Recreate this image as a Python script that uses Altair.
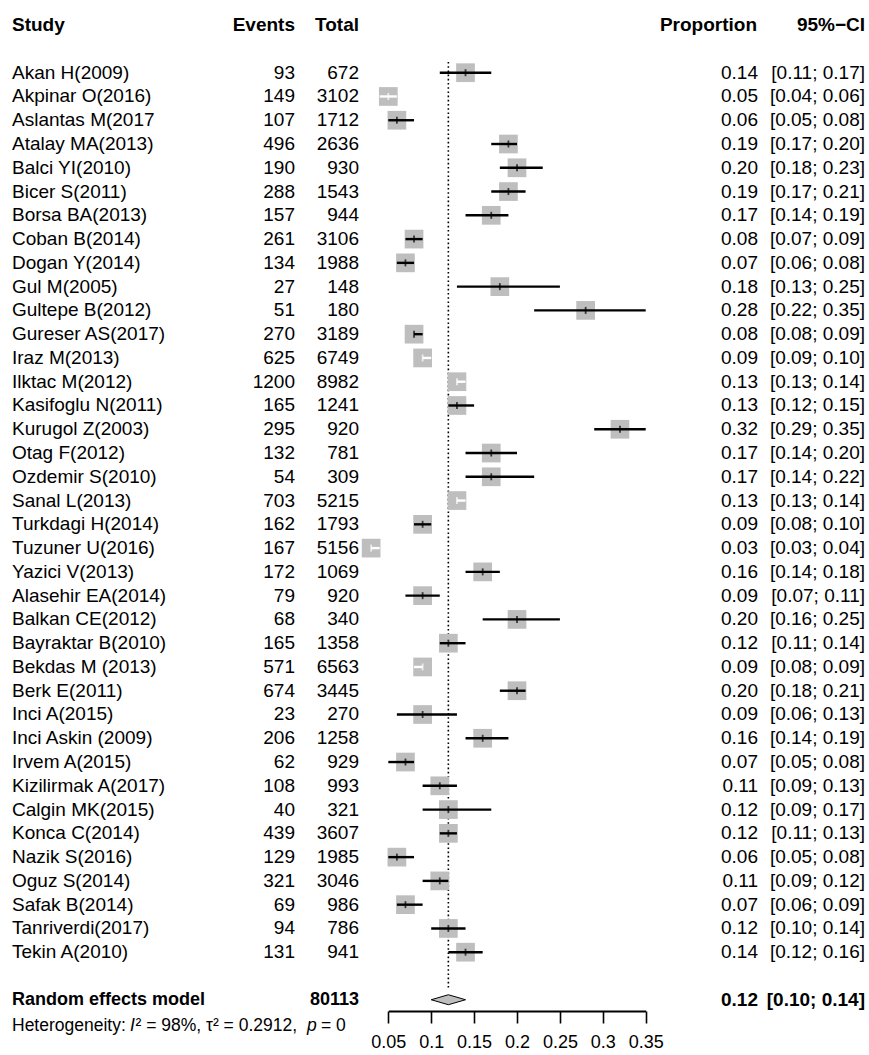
import altair as alt
import pandas as pd

# ---- study-level data ----
studies = [
    "Akan H(2009)", "Akpinar O(2016)", "Aslantas M(2017", "Atalay MA(2013)", "Balci YI(2010)",
    "Bicer S(2011)", "Borsa BA(2013)", "Coban B(2014)", "Dogan Y(2014)", "Gul M(2005)",
    "Gultepe B(2012)", "Gureser AS(2017)", "Iraz M(2013)", "Ilktac M(2012)", "Kasifoglu N(2011)",
    "Kurugol Z(2003)", "Otag F(2012)", "Ozdemir S(2010)", "Sanal L(2013)", "Turkdagi H(2014)",
    "Tuzuner U(2016)", "Yazici V(2013)", "Alasehir EA(2014)", "Balkan CE(2012)", "Bayraktar B(2010)",
    "Bekdas M (2013)", "Berk E(2011)", "Inci A(2015)", "Inci Askin (2009)", "Irvem A(2015)",
    "Kizilirmak A(2017)", "Calgin MK(2015)", "Konca C(2014)", "Nazik S(2016)", "Oguz S(2014)",
    "Safak B(2014)", "Tanriverdi(2017)", "Tekin A(2010)",
]
events = [93, 149, 107, 496, 190, 288, 157, 261, 134, 27, 51, 270, 625, 1200, 165, 295, 132, 54,
          703, 162, 167, 172, 79, 68, 165, 571, 674, 23, 206, 62, 108, 40, 439, 129, 321, 69, 94, 131]
totals = [672, 3102, 1712, 2636, 930, 1543, 944, 3106, 1988, 148, 180, 3189, 6749, 8982, 1241, 920,
          781, 309, 5215, 1793, 5156, 1069, 920, 340, 1358, 6563, 3445, 270, 1258, 929, 993, 321,
          3607, 1985, 3046, 986, 786, 941]
proportion = [0.14, 0.05, 0.06, 0.19, 0.20, 0.19, 0.17, 0.08, 0.07, 0.18, 0.28, 0.08, 0.09, 0.13,
              0.13, 0.32, 0.17, 0.17, 0.13, 0.09, 0.03, 0.16, 0.09, 0.20, 0.12, 0.09, 0.20, 0.09,
              0.16, 0.07, 0.11, 0.12, 0.12, 0.06, 0.11, 0.07, 0.12, 0.14]
ci_lower = [0.11, 0.04, 0.05, 0.17, 0.18, 0.17, 0.14, 0.07, 0.06, 0.13, 0.22, 0.08, 0.09, 0.13,
            0.12, 0.29, 0.14, 0.14, 0.13, 0.08, 0.03, 0.14, 0.07, 0.16, 0.11, 0.08, 0.18, 0.06,
            0.14, 0.05, 0.09, 0.09, 0.11, 0.05, 0.09, 0.06, 0.10, 0.12]
ci_upper = [0.17, 0.06, 0.08, 0.20, 0.23, 0.21, 0.19, 0.09, 0.08, 0.25, 0.35, 0.09, 0.10, 0.14,
            0.15, 0.35, 0.20, 0.22, 0.14, 0.10, 0.04, 0.18, 0.11, 0.25, 0.14, 0.09, 0.21, 0.13,
            0.19, 0.08, 0.13, 0.17, 0.13, 0.08, 0.12, 0.09, 0.14, 0.16]
# studies whose interval fits inside the square: the whisker is drawn in white
ci_inside_box = ["Akpinar O(2016)", "Iraz M(2013)", "Ilktac M(2012)", "Sanal L(2013)",
                 "Tuzuner U(2016)", "Bekdas M (2013)"]

# ---- pooled estimate ----
pooled_label = "Random effects model"
pooled_total = 80113
pooled_est, pooled_lo, pooled_hi = 0.12, 0.10, 0.14

axis_ticks = [0.05, 0.1, 0.15, 0.2, 0.25, 0.3, 0.35]

FONT = "Liberation Sans"
BOX_GREY = "#BEBEBE"

n = len(studies)
df = pd.DataFrame({
    "study": studies,
    "events": [str(e) for e in events],
    "total": [str(t) for t in totals],
    "prop": proportion,
    "lo": ci_lower,
    "hi": ci_upper,
})
df["row"] = list(range(n))
df["lc"] = ["white" if s in ci_inside_box else "black" for s in studies]
df["prop_txt"] = [f"{p:.2f}" for p in proportion]
df["ci_txt"] = [f"[{l:.2f}; {h:.2f}]" for l, h in zip(ci_lower, ci_upper)]

header_row = -2
pooled_row = n + 1

x_scale = alt.Scale(domain=[0.05, 0.35], range=[388.3, 645.7], zero=False, nice=False)
y_scale = alt.Scale(domain=[0, n - 1], range=[72.7, 952.2], zero=False, nice=False)
x_axis = alt.Axis(
    values=axis_ticks, format="~g", title=None, grid=False, orient="bottom",
    domainColor="black", domainWidth=2, tickColor="black", tickWidth=1.6, tickSize=12,
    labelFont=FONT, labelFontSize=18, labelColor="black", labelPadding=10,
    labelFlush=False, labelOverlap=False,
)


def X(field):
    return alt.X(field, scale=x_scale, axis=x_axis)


def Y(field):
    return alt.Y(field, scale=y_scale, axis=None)


base = alt.Chart(df)

boxes = base.mark_square(size=350, color=BOX_GREY, opacity=1).encode(x=X("prop:Q"), y=Y("row:Q"))
whiskers = base.mark_rule(strokeWidth=2.4).encode(
    x=X("lo:Q"), x2="hi:Q", y=Y("row:Q"), color=alt.Color("lc:N", scale=None)
)
centres = base.mark_tick(orient="vertical", size=7, thickness=1.8).encode(
    x=X("prop:Q"), y=Y("row:Q"), color=alt.Color("lc:N", scale=None)
)

# dotted line at the pooled estimate
ref_df = pd.DataFrame({"x": [pooled_est], "y0": [-0.45], "y1": [n + 0.6]})
ref_line = alt.Chart(ref_df).mark_rule(color="black", strokeWidth=1.6, strokeDash=[1.6, 2.6]).encode(
    x=X("x:Q"), y=Y("y0:Q"), y2="y1:Q"
)

# pooled diamond
half_h = 0.21
dia_df = pd.DataFrame({
    "x": [pooled_lo, pooled_est, pooled_hi],
    "y0": [pooled_row, pooled_row - half_h, pooled_row],
    "y1": [pooled_row, pooled_row + half_h, pooled_row],
})
diamond = alt.Chart(dia_df).mark_area(
    orient="vertical", color=BOX_GREY, stroke="black", strokeWidth=1, opacity=1
).encode(x=X("x:Q"), y=Y("y0:Q"), y2="y1:Q")


def text_col(field, xpos, align, bold=False, size=19):
    return base.mark_text(
        align=align, baseline="middle", font=FONT, fontSize=size,
        fontWeight="bold" if bold else "normal", color="black",
    ).encode(x=alt.value(xpos), y=Y("row:Q"), text=f"{field}:N")


cols = [
    text_col("study", 12, "left"),
    text_col("events", 295, "right"),
    text_col("total", 359, "right"),
    text_col("prop_txt", 758, "right"),
    text_col("ci_txt", 865, "right"),
]

# header and pooled rows
head_df = pd.DataFrame({
    "row": [header_row] * 5 + [pooled_row] * 4,
    "txt": ["Study", "Events", "Total", "Proportion", "95%\u2212CI",
            pooled_label, str(pooled_total), f"{pooled_est:.2f}",
            f"[{pooled_lo:.2f}; {pooled_hi:.2f}]"],
    "xp": [12, 295, 359, 757, 865, 12, 359, 758, 865],
    "al": ["left", "right", "right", "right", "right", "left", "right", "right", "right"],
    "fs": [19, 19, 19, 19, 19, 18, 18, 19, 19],
})
bold_layers = []
for (al, fs), sub in head_df.groupby(["al", "fs"]):
    bold_layers.append(
        alt.Chart(sub).mark_text(
            align=al, baseline="middle", font=FONT, fontSize=int(fs), fontWeight="bold", color="black"
        ).encode(x=alt.X("xp:Q", scale=None), y=Y("row:Q"), text="txt:N")
    )

# heterogeneity line, pieced together so I and p can be italic
het_row = n + 2.1
het_df = pd.DataFrame({
    "row": [het_row] * 5,
    "txt": ["Heterogeneity:", "I", "\u00b2 = 98%, \u03c4\u00b2 = 0.2912,", "p", "= 0"],
    "xp": [12, 130, 135.5, 307, 321],
    "st": ["normal", "italic", "normal", "italic", "normal"],
})
het_layers = []
for st, sub in het_df.groupby("st"):
    het_layers.append(
        alt.Chart(sub).mark_text(
            align="left", baseline="middle", font=FONT, fontSize=17.5, fontStyle=st, color="black"
        ).encode(x=alt.X("xp:Q", scale=None), y=Y("row:Q"), text="txt:N")
    )

chart = alt.layer(
    ref_line, boxes, whiskers, centres, diamond, *cols, *bold_layers, *het_layers
).properties(
    width=869, height=1011,
    autosize=alt.AutoSizeParams(type="none"),
    padding={"left": 0, "top": 0, "right": 0, "bottom": 44},
    background="white",
).configure_view(stroke=None)

chart.save("out.html", embed_options={"renderer": "svg", "actions": False})
